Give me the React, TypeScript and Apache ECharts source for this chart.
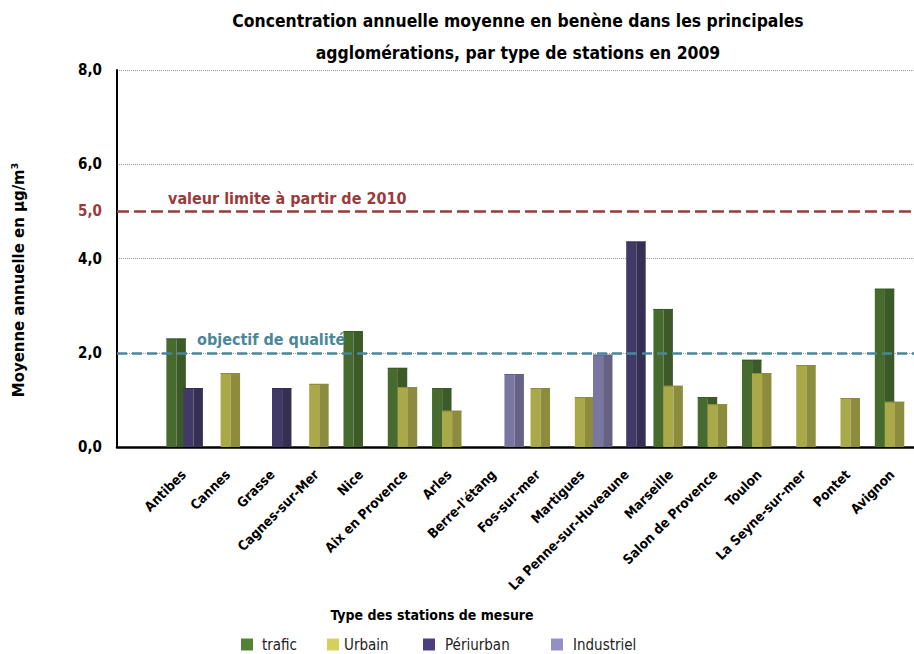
import React, { useEffect, useRef } from "react";
import * as echarts from "echarts";

const CITIES = [
  "Antibes", "Cannes", "Grasse", "Cagnes-sur-Mer", "Nice", "Aix en Provence", "Arles",
  "Berre-l'étang", "Fos-sur-mer", "Martigues", "La Penne-sur-Huveaune", "Marseille",
  "Salon de Provence", "Toulon", "La Seyne-sur-mer", "Pontet", "Avignon",
];
const TRAFIC = [2.3, null, null, null, 2.46, 1.68, 1.25, null, null, null, null, 2.93, 1.06, 1.85, null, null, 3.36];
const URBAIN = [null, 1.57, null, 1.34, null, 1.27, 0.77, null, 1.25, 1.06, null, 1.3, 0.91, 1.57, 1.74, 1.04, 0.96];
const PERIURBAN = [1.25, null, 1.25, null, null, null, null, null, null, null, 4.36, null, null, null, null, null, null];
const INDUSTRIEL = [null, null, null, null, null, null, null, 1.55, null, 1.96, null, null, null, null, null, null, null];
const Y_TICKS = [0, 2, 4, 6, 8];
const LIMIT_VALUE = 5;
const OBJECTIVE_VALUE = 2;

const FONT = "'DejaVu Sans Condensed', 'Liberation Sans Narrow', sans-serif";
const BAR_W = 0.44;

type Any = any;

function makeRender(slot: number, light: string, dark: string) {
  return (params: Any, api: Any) => {
    const x = api.value(0);
    const v = api.value(1);
    const base = api.coord([x, 0]);
    const top = api.coord([x, v]);
    const band = api.size([1, 0])[0];
    const left = base[0] + slot * band;
    const w = BAR_W * band;
    const lw = w * 0.52;
    const h = base[1] - top[1];
    return {
      type: "group",
      children: [
        { type: "rect", shape: { x: left, y: top[1], width: lw, height: h }, style: { fill: light } },
        { type: "rect", shape: { x: left + lw, y: top[1], width: w - lw, height: h }, style: { fill: dark } },
        { type: "rect", shape: { x: left, y: top[1], width: w, height: 1 }, style: { fill: dark } },
      ],
    };
  };
}

function toData(arr: (number | null)[]) {
  const out: Any[] = [];
  arr.forEach((v, i) => {
    if (v != null) out.push([i + 1, v]);
  });
  return out;
}

const fmt = (v: number) => v.toFixed(1).replace(".", ",");

export default function App() {
  const ref = useRef<HTMLDivElement>(null);
  useEffect(() => {
    if (!ref.current) return;
    const chart = echarts.init(ref.current, null, { renderer: "svg" });
    const categories = ["", ...CITIES];
    const seriesDefs = [
      { name: "trafic", data: TRAFIC, slot: -0.385, light: "#476a2f", dark: "#3b5a28", legend: "#538135" },
      { name: "Urbain", data: URBAIN, slot: -0.16, light: "#a9a94a", dark: "#8d8b3d", legend: "#d4d05a" },
      { name: "Périurban", data: PERIURBAN, slot: 0.0, light: "#413966", dark: "#352f53", legend: "#4c3f7f" },
      { name: "Industriel", data: INDUSTRIEL, slot: 0.25, light: "#7a76a2", dark: "#666286", legend: "#9490c6" },
    ];
    const legendLefts = [241, 327, 423, 551];
    const legendPad = [4, 0, 5, 5];
    const option: Any = {
      animation: false,
      backgroundColor: "#fff",
      title: [
        {
          text: "Concentration annuelle moyenne en benène dans les principales\nagglomérations, par type de stations en 2009",
          left: 513,
          top: 0,
          textAlign: "center",
          textStyle: { fontFamily: FONT, fontSize: 17.4, fontWeight: "bold", color: "#000", lineHeight: 32 },
        },
        {
          text: "Type des stations de mesure",
          left: 427,
          top: 603,
          textAlign: "center",
          textStyle: { fontFamily: FONT, fontSize: 14, fontWeight: "bold", color: "#000" },
        },
      ],
      legend: seriesDefs.map((s, i) => ({
        data: [s.name],
        left: legendLefts[i],
        top: 637,
        padding: 0,
        itemWidth: 12,
        itemHeight: 12,
        icon: "rect",
        selectedMode: false,
        textStyle: { fontFamily: FONT, fontSize: 15, color: "#222", padding: [0, 0, 0, legendPad[i]] },
      })),
      graphic: [
        {
          type: "text",
          x: 18,
          y: 280,
          rotation: Math.PI / 2,
          style: {
            text: "Moyenne annuelle en µg/m³",
            fill: "#000",
            fontFamily: FONT,
            fontSize: 16.6,
            fontWeight: "bold",
            align: "center",
            verticalAlign: "middle",
          },
        },
      ],
      grid: { left: 117, right: 0, top: 70, bottom: 207 },
      xAxis: {
        type: "category",
        data: categories,
        boundaryGap: true,
        axisLine: { lineStyle: { color: "#000", width: 2.5 } },
        axisTick: { show: false },
        axisLabel: {
          interval: 0,
          rotate: 45,
          margin: 25,
          color: "#000",
          fontFamily: FONT,
          fontSize: 13.5,
          fontWeight: "bold",
        },
      },
      yAxis: {
        type: "value",
        min: 0,
        max: 8,
        interval: 1,
        axisLine: { show: true, lineStyle: { color: "#000", width: 2 } },
        axisTick: { show: false },
        splitLine: { show: true, lineStyle: { color: ["#9a9a9a", "transparent"], type: "dotted", width: 1 } },
        axisLabel: {
          margin: 15,
          color: "#000",
          fontFamily: FONT,
          fontSize: 15,
          fontWeight: "bold",
          formatter: (v: number) => (Y_TICKS.includes(v) ? fmt(v) : v === LIMIT_VALUE ? "{r|" + fmt(v) + "}" : ""),
          rich: { r: { color: "#9b3a3a", fontFamily: FONT, fontSize: 15, fontWeight: "bold" } },
        },
      },
      series: [
        {
          type: "line",
          name: "_ref",
          data: [],
          z: 1,
          silent: true,
          markLine: {
            silent: true,
            symbol: "none",
            data: [
              {
                yAxis: LIMIT_VALUE,
                lineStyle: { color: "#9b3a3a", type: [12, 5], width: 2.5 },
                label: {
                  show: true,
                  position: "insideStartTop",
                  formatter: "valeur limite à partir de 2010",
                  color: "#9b3a3a",
                  fontFamily: FONT,
                  fontSize: 16,
                  fontWeight: "bold",
                  padding: [0, 0, 0, 46],
                  distance: 5,
                },
              },
              {
                yAxis: OBJECTIVE_VALUE,
                lineStyle: { color: "#4a8799", type: [10, 5], width: 2.5 },
                label: {
                  show: true,
                  position: "insideStartTop",
                  formatter: "objectif de qualité",
                  color: "#4a8799",
                  fontFamily: FONT,
                  fontSize: 16,
                  fontWeight: "bold",
                  padding: [0, 0, 0, 75],
                  distance: 5,
                },
              },
            ],
          },
        },
        ...seriesDefs.map((s) => ({
          type: "custom",
          name: s.name,
          z: 3,
          itemStyle: { color: s.legend },
          encode: { x: 0, y: 1 },
          data: toData(s.data),
          renderItem: makeRender(s.slot, s.light, s.dark),
        })),
      ],
    };
    chart.setOption(option);
    return () => chart.dispose();
  }, []);
  return <div ref={ref} style={{ position: "fixed", left: 0, top: 0, width: 914, height: 654 }} />;
}
